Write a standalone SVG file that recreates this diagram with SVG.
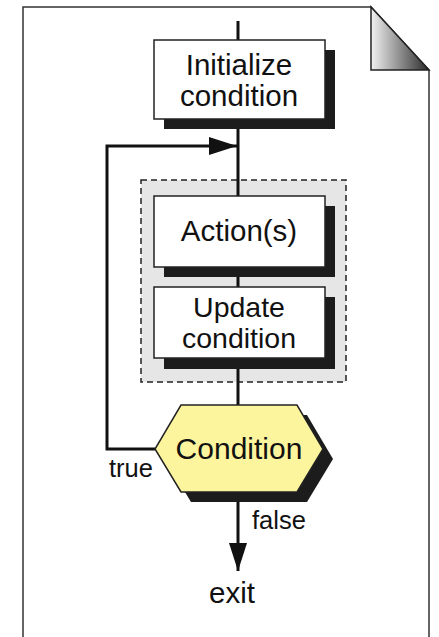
<svg xmlns="http://www.w3.org/2000/svg" width="439" height="637" viewBox="0 0 439 637">
<defs>
<linearGradient id="fold" x1="0" y1="0" x2="1" y2="0">
<stop offset="0" stop-color="#f2f2f2"/>
<stop offset="1" stop-color="#2a2a2a"/>
</linearGradient>
<marker id="arr" markerUnits="userSpaceOnUse" markerWidth="30" markerHeight="20" refX="28" refY="9" orient="auto">
<path d="M0,0 L28,9 L0,18 Z" fill="#111"/>
</marker>
</defs>
<style>
.box{fill:#fff;stroke:#222;stroke-width:1.5}
.sh{fill:#1c1c1c}
.t{font-family:"Liberation Sans",Arial,sans-serif;font-size:29.5px;fill:#111;text-anchor:middle}
.u{font-size:28.5px}
.s{font-family:"Liberation Sans",Arial,sans-serif;font-size:25.5px;fill:#111}
.c{fill:none;stroke:#111;stroke-width:3}
</style>
<g id="page">
<path d="M23,640 L23,7 L371,7 L429,70 L429,640" fill="#fff" stroke="#333" stroke-width="1.5"/>
<path d="M371,7 L371,70 L429,70 Z" fill="url(#fold)" stroke="#222" stroke-width="1.5"/>
</g>
<g id="group">
<rect x="141" y="180" width="205" height="202" fill="#e6e6e6" stroke="#222" stroke-width="1.5" stroke-dasharray="6,4"/>
</g>
<g id="connectors">
<line class="c" x1="238" y1="21" x2="238" y2="40"/>
<line class="c" x1="238" y1="119" x2="238" y2="196"/>
<line class="c" x1="238" y1="267" x2="238" y2="287"/>
<line class="c" x1="238" y1="358" x2="238" y2="405"/>
<path class="c" d="M155,449 L107,449 L107,146 L237,146" marker-end="url(#arr)"/>
<path class="c" d="M238,492 L238,571" marker-end="url(#arr)"/>
</g>
<g id="init">
<rect class="sh" x="164" y="50" width="171" height="79"/>
<rect class="box" x="154" y="40" width="171" height="79"/>
<text class="t" x="239" y="75">Initialize</text>
<text class="t" x="239" y="106">condition</text>
</g>
<g id="action">
<rect class="sh" x="164" y="206" width="171" height="71"/>
<rect class="box" x="154" y="196" width="171" height="71"/>
<text class="t" x="239" y="241">Action(s)</text>
</g>
<g id="update">
<rect class="sh" x="164" y="297" width="171" height="72"/>
<rect class="box" x="154" y="287" width="171" height="71"/>
<text class="t u" x="239" y="317">Update</text>
<text class="t u" x="239" y="348">condition</text>
</g>
<g id="condition">
<polygon class="sh" points="191,415 307,415 333,459 307,502 191,502 165,459"/>
<polygon points="181,405 297,405 323,449 297,492 181,492 155,449" fill="#fdf59e" stroke="#222" stroke-width="1.5"/>
<text class="t" x="239" y="459" style="font-size:30px">Condition</text>
</g>
<g id="labels">
<text class="s" x="109" y="477">true</text>
<text class="s" x="252" y="529">false</text>
<text class="t" x="232" y="603">exit</text>
</g>
</svg>
